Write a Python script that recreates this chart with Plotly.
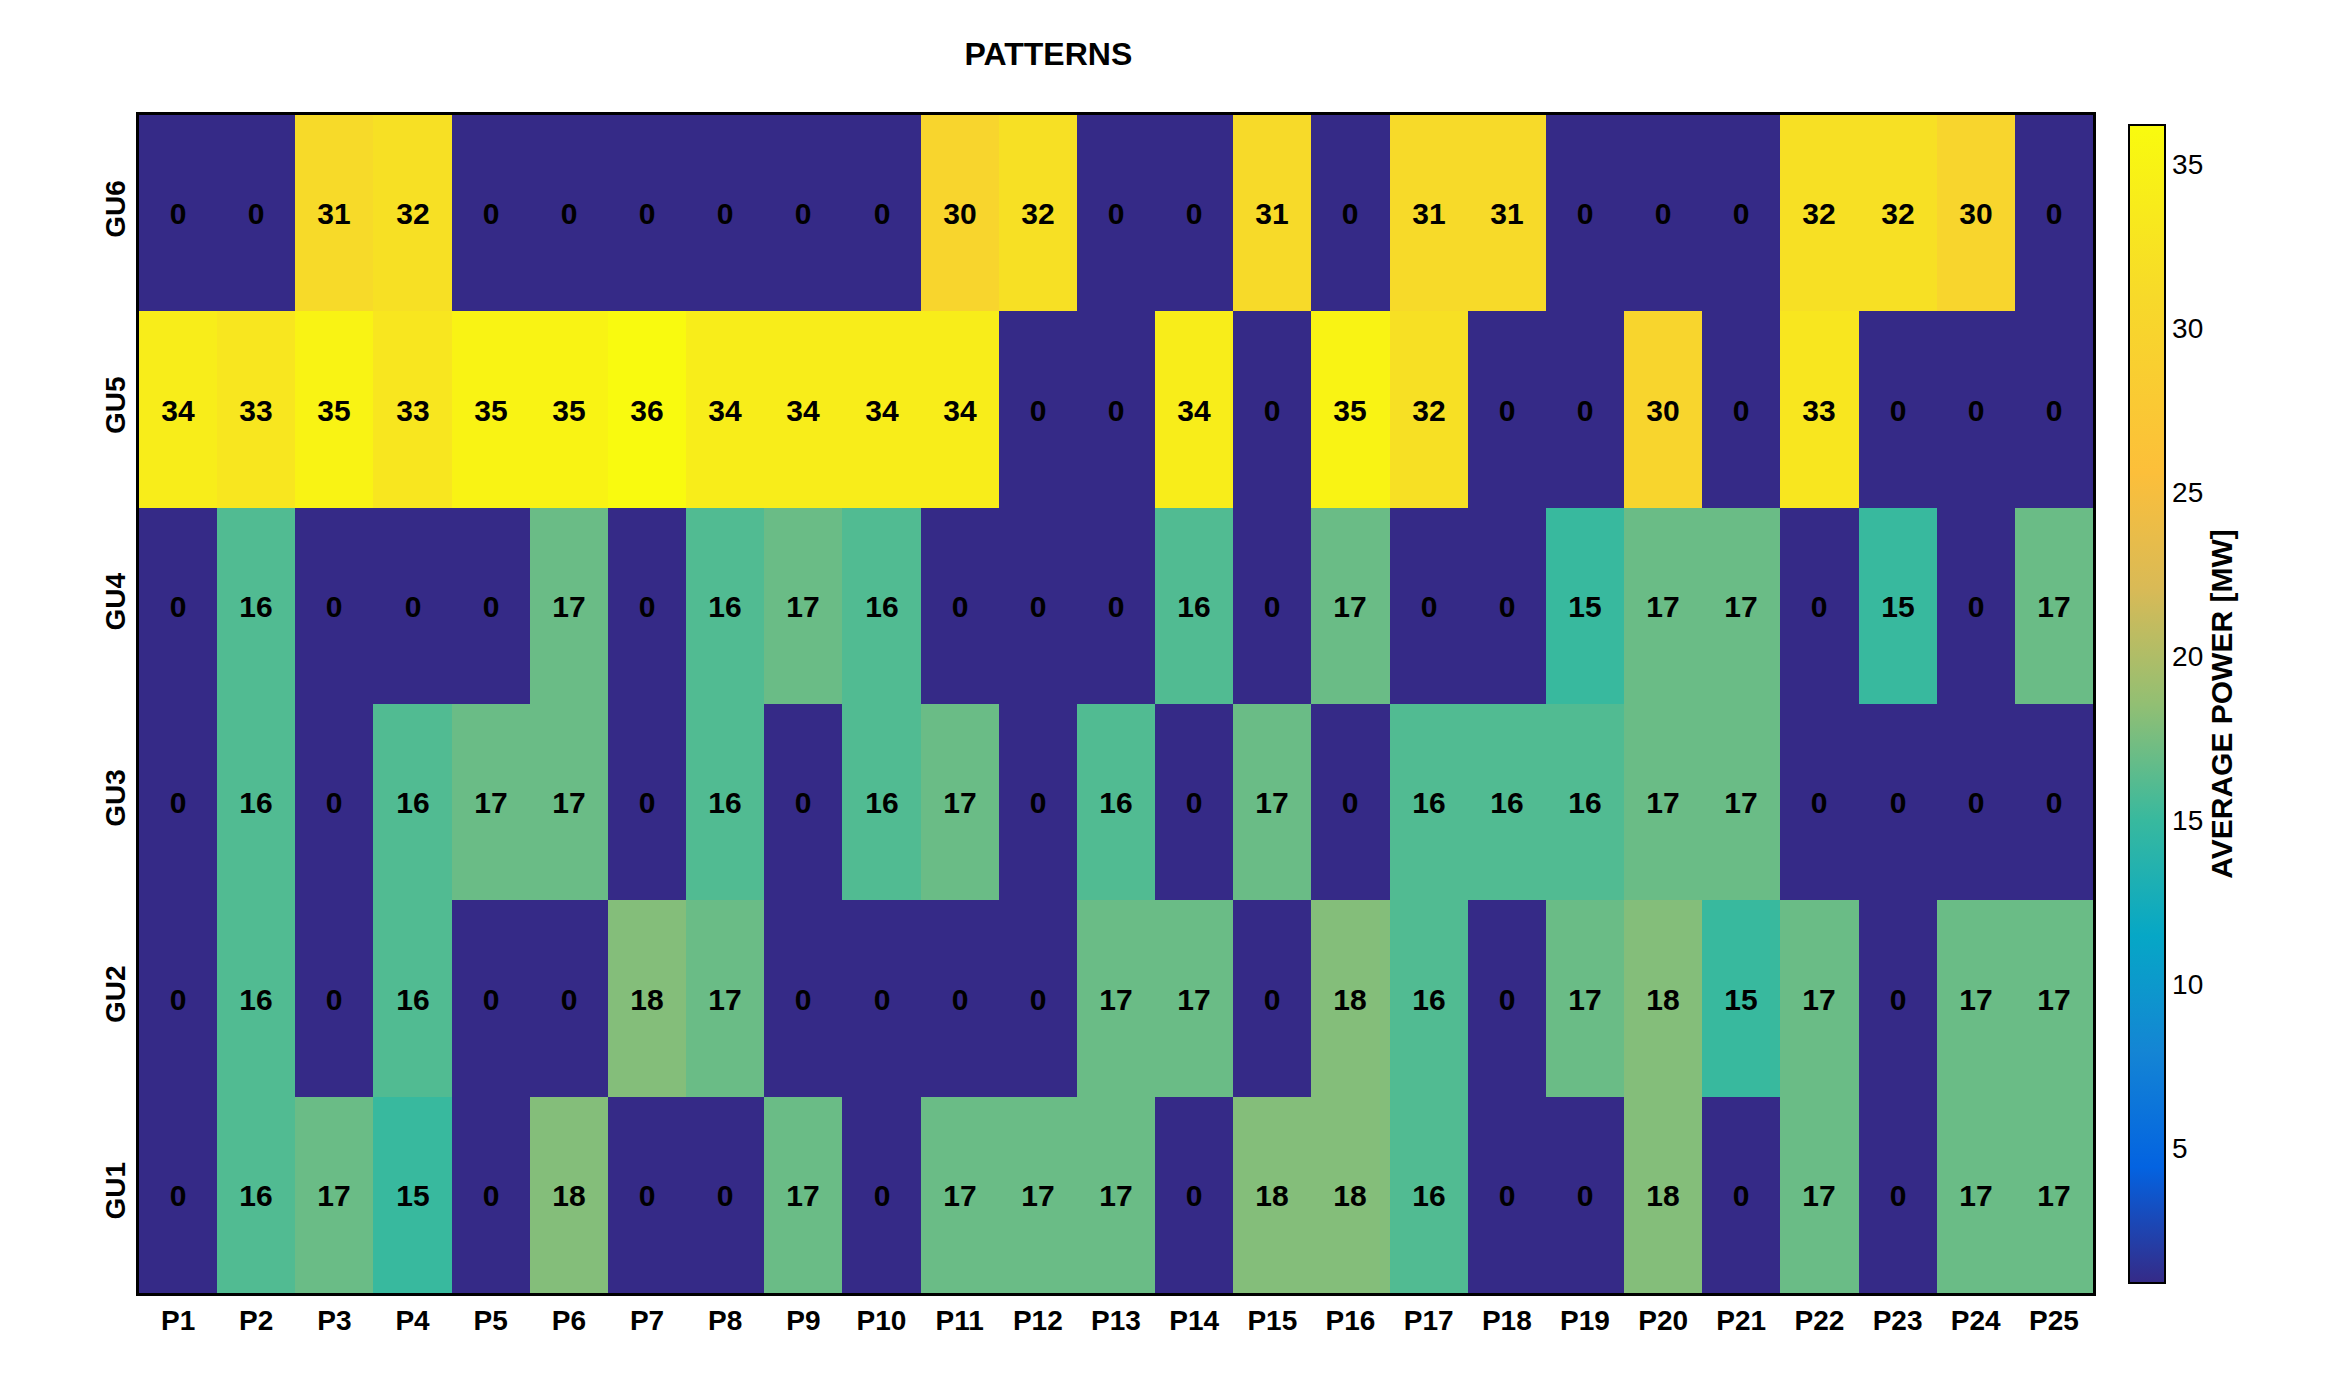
import plotly.graph_objects as go

patterns = [f"P{i}" for i in range(1, 26)]
units = ["GU1", "GU2", "GU3", "GU4", "GU5", "GU6"]
gu1 = [0,16,17,15,0,18,0,0,17,0,17,17,17,0,18,18,16,0,0,18,0,17,0,17,17]
gu2 = [0,16,0,16,0,0,18,17,0,0,0,0,17,17,0,18,16,0,17,18,15,17,0,17,17]
gu3 = [0,16,0,16,17,17,0,16,0,16,17,0,16,0,17,0,16,16,16,17,17,0,0,0,0]
gu4 = [0,16,0,0,0,17,0,16,17,16,0,0,0,16,0,17,0,0,15,17,17,0,15,0,17]
gu5 = [34,33,35,33,35,35,36,34,34,34,34,0,0,34,0,35,32,0,0,30,0,33,0,0,0]
gu6 = [0,0,31,32,0,0,0,0,0,0,30,32,0,0,31,0,31,31,0,0,0,32,32,30,0]
z = [gu1, gu2, gu3, gu4, gu5, gu6]

parula = [[0.0,"#352a87"],[0.1,"#0363e1"],[0.2,"#1485d4"],[0.3,"#06a7c6"],
          [0.4,"#38b99e"],[0.5,"#92bf73"],[0.6,"#d9ba56"],[0.7,"#fcbf3a"],
          [0.85,"#f7d92a"],[1.0,"#f9fb0e"]]

fig = go.Figure(go.Heatmap(
    z=z, x=patterns, y=units, colorscale=parula, zmin=0.9, zmax=36.2,
    text=[[str(v) for v in r] for r in z], texttemplate="<b>%{text}</b>",
    textfont=dict(size=30, color="black", family="Liberation Sans"),
    colorbar=dict(x=1.0133, xanchor="left", thickness=36, len=1, y=0.5, yanchor="middle",
                  tickvals=[5,10,15,20,25,30,35], outlinecolor="black", outlinewidth=2,
                  tickfont=dict(size=28, family="Liberation Sans", color="black"),
                  title=dict(text="<b>AVERAGE POWER [MW]</b>", side="right",
                             font=dict(size=30, family="Liberation Sans", color="black")))
))
fig.update_layout(
    width=2338, height=1396, paper_bgcolor="white", plot_bgcolor="white",
    margin=dict(l=131, r=253, t=107, b=111),
    title=dict(text="<b>PATTERNS</b>", x=0.445, xanchor="center", y=0.975,
               font=dict(size=32, family="Liberation Sans", color="black")),
    font=dict(family="Liberation Sans", color="black"),
)
fig.update_xaxes(tickfont=dict(size=28), tickprefix="<b>", ticksuffix="</b>",
                 showline=True, linecolor="black", linewidth=3, mirror=True, ticks="")
fig.update_yaxes(tickfont=dict(size=28), tickprefix="<b>", ticksuffix="</b>", tickangle=-90,
                 showline=True, linecolor="black", linewidth=3, mirror=True, ticks="")
fig.write_html("out.html")
